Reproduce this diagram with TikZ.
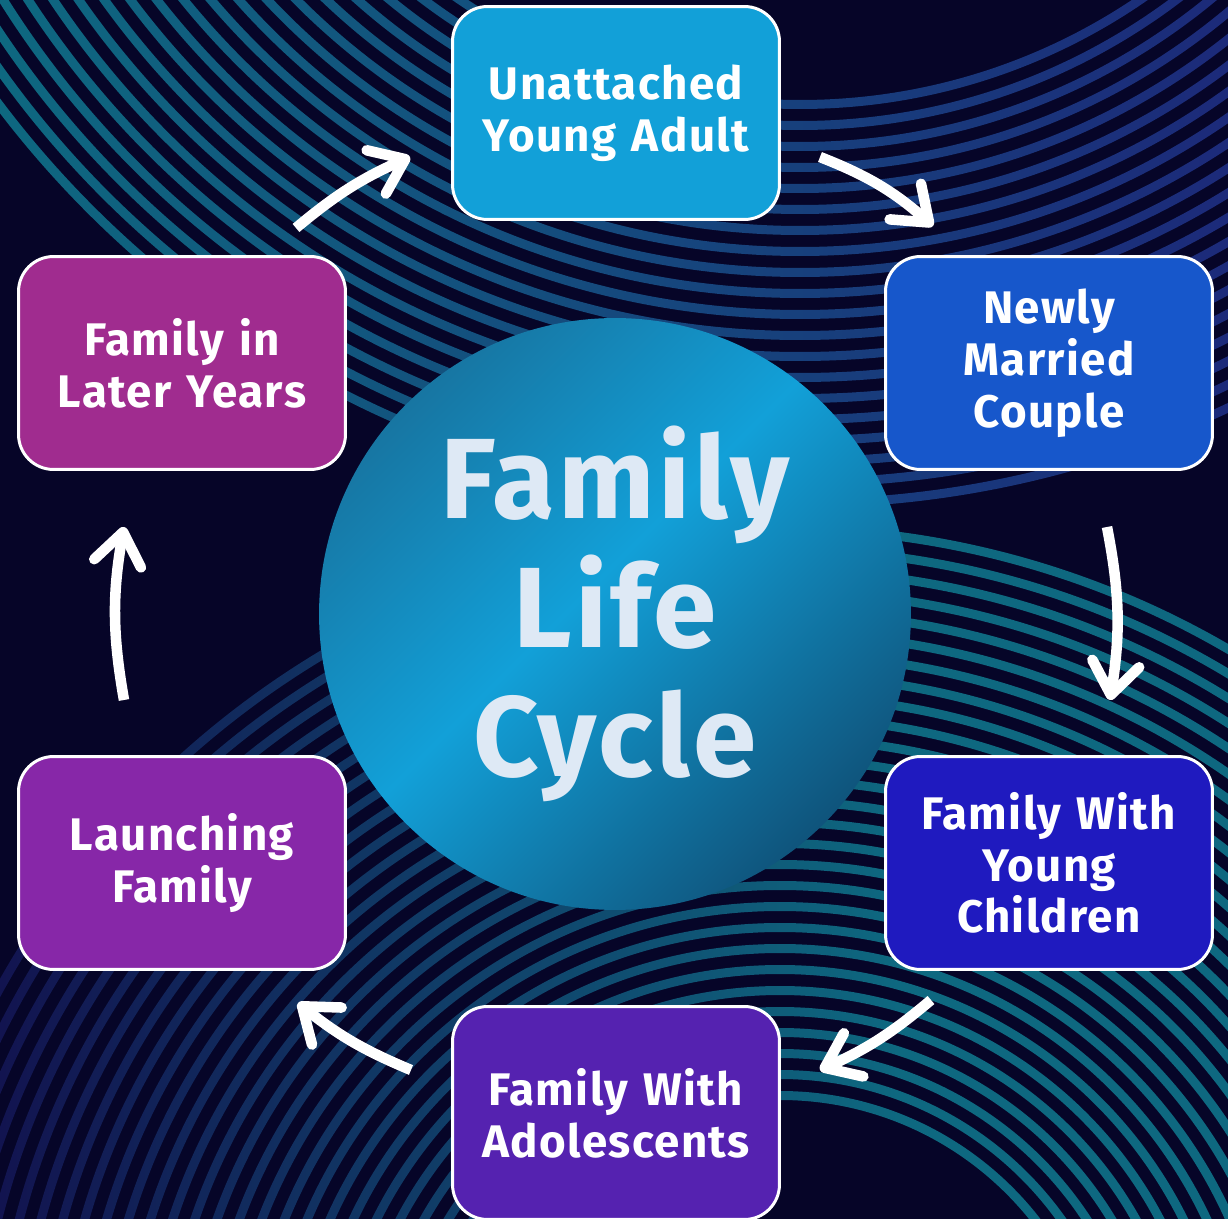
\documentclass[tikz,border=0pt]{standalone}
\usepackage{fontspec}
\setmainfont{Fira Sans}[LetterSpace=3]
\usetikzlibrary{arrows.meta}

\definecolor{bgnavy}{RGB}{6,5,40}
\definecolor{stripeteal}{RGB}{14,104,128}
\definecolor{stripeblue}{RGB}{28,42,122}
\definecolor{stripeindigo}{RGB}{18,20,80}
\definecolor{hubdark}{RGB}{24,108,150}
\definecolor{hublight}{RGB}{18,160,216}
\definecolor{hubdeep}{RGB}{15,76,114}
\definecolor{hubtext}{RGB}{222,233,245}
\definecolor{unattcol}{RGB}{18,160,216}
\definecolor{newlycol}{RGB}{23,87,203}
\definecolor{youngcol}{RGB}{31,26,191}
\definecolor{adolcol}{RGB}{85,34,176}
\definecolor{launchcol}{RGB}{135,39,168}
\definecolor{latercol}{RGB}{160,44,143}

\pgfdeclareverticalshading{hubshade}{100bp}{color(0bp)=(hubdeep); color(22bp)=(hubdeep);
  color(53bp)=(hublight); color(80bp)=(hubdark); color(100bp)=(hubdark)}

\tikzset{
  stage/.style={draw=white, line width=1.7pt, rounded corners=0.7cm,
    minimum width=6.54cm, minimum height=4.26cm, text width=6.2cm, align=center,
    text=white, font=\bfseries\fontsize{26}{29.5}\selectfont},
  cyclearrow/.style={white, line width=6pt, -{Straight Barb[length=18pt,width=27pt,round]}},
}

\begin{document}
\begin{tikzpicture}[x=0.02cm, y=-0.02cm]
  \fill[bgnavy] (0,0) rectangle (1228,1219);
  \useasboundingbox (0,0) rectangle (1228,1219);

  % upper band of rings
  \begin{scope}[even odd rule]
    \clip \foreach \r in {600,621,...,1006} {(800,-500) circle[radius=\r] circle[radius=\r+9]};
    \shade[left color=stripeteal, right color=stripeblue] (0,0) rectangle (1228,1219);
  \end{scope}

  % lower band of rings
  \begin{scope}[even odd rule]
    \clip \foreach \r in {320,341,...,890} {(780,1420) circle[radius=\r] circle[radius=\r+9]};
    \shade[left color=stripeindigo, right color=stripeteal] (0,0) rectangle (900,1219);
    \fill[stripeteal] (900,0) rectangle (1228,1219);
  \end{scope}

  \node[circle, minimum size=11.84cm, shade, shading=hubshade, shading angle=45,
    text=hubtext, align=center,
    font=\bfseries\fontsize{65}{73.5}\selectfont] (hub) at (615,614) {Family\\Life\\Cycle};

  \node[stage, fill=unattcol] (unatt) at (616,113) {Unattached\\Young Adult};
  \node[stage, fill=newlycol] (newly) at (1049,363) {Newly\\Married\\Couple};
  \node[stage, fill=youngcol] (young) at (1049,863) {Family With\\Young\\Children};
  \node[stage, fill=adolcol] (adol) at (616,1113) {Family With\\Adolescents};
  \node[stage, fill=launchcol] (launch) at (182,863) {Launching\\Family};
  \node[stage, fill=latercol] (later) at (182,363) {Family in\\Later Years};

  \coordinate (a1s) at (296,228);  \coordinate (a1e) at (410,157);
  \coordinate (a2s) at (820,157);  \coordinate (a2e) at (933,226);
  \coordinate (a3s) at (1107,527); \coordinate (a3e) at (1110,700);
  \coordinate (a4s) at (931,1000); \coordinate (a4e) at (820,1070);
  \coordinate (a5s) at (411,1070); \coordinate (a5e) at (298,1003);
  \coordinate (a6s) at (124,700);  \coordinate (a6e) at (124,527);

  \draw[cyclearrow] (a1s) to[bend left=8] (a1e);
  \draw[cyclearrow] (a2s) to[bend left=10] (a2e);
  \draw[cyclearrow] (a3s) to[bend left=10] (a3e);
  \draw[cyclearrow] (a4s) to[bend left=8] (a4e);
  \draw[cyclearrow] (a5s) to[bend left=8] (a5e);
  \draw[cyclearrow] (a6s) to[bend left=10] (a6e);
\end{tikzpicture}
\end{document}
